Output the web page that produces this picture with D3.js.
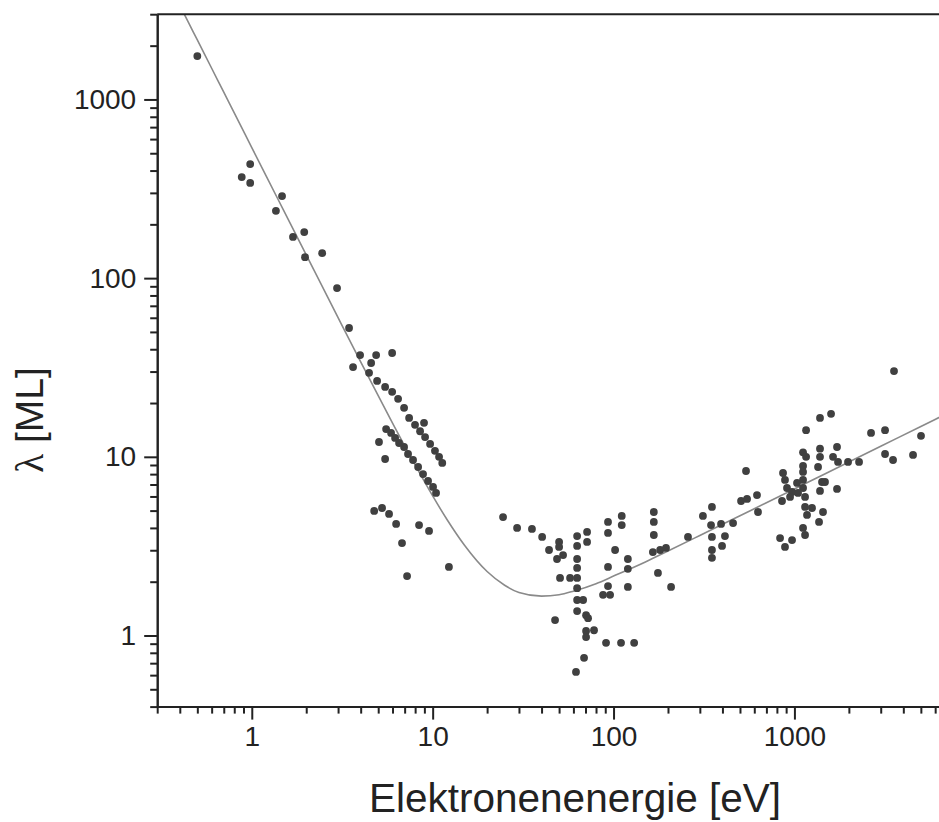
<!DOCTYPE html>
<html>
<head>
<meta charset="utf-8">
<script src="https://cdn.jsdelivr.net/npm/d3@7"></script>
<style>
  html, body { margin: 0; padding: 0; background: #fff; }
  svg { display: block; }
</style>
</head>
<body>
<svg id="chart" width="939" height="822"></svg>
<script>
// ---- data ----
const pointsLow = [
  [0.5,1750],[0.98,435],[0.88,368],[0.98,341],[1.47,288],[1.36,238],[1.69,170],[1.95,181],
  [1.97,131],[2.45,138],[2.96,88],[3.45,52.6]
];
const pointsBand = [
  [3.97,37.1],[4.87,37.1],[5.97,38.1],[3.63,31.8],[4.57,33.5],[4.45,29.5],[4.93,26.6],[5.46,24.6],
  [5.97,23.1],[6.44,21.1],[6.95,18.8],[7.41,16.5],[7.99,15.1],[8.96,15.5],[8.52,13.9],[9.08,12.9],
  [9.68,11.8],[10.3,10.8],[10.85,10.0],[11.3,9.24],
  [5.53,14.3],[5.89,13.6],[6.2,12.75],[6.52,11.95],[6.95,11.35],[7.31,10.37],[7.79,9.6],[8.31,8.77],
  [8.85,8.01],[9.43,7.32],[10.05,6.78],[10.44,6.28],
  [5.05,12.1],[5.46,9.72],[4.75,4.98],[5.25,5.17],[5.74,4.79],[6.28,4.21],[8.41,4.15],[9.55,3.85],
  [6.77,3.29],[12.3,2.42],[7.22,2.15]
];
const pointsMid = [
  [24.5,4.6],[29.3,4.0],[35.4,3.95],[40.3,3.56],[50,3.34],[50,3.13],[44,3.01],[48.7,2.68],[52.6,2.82],
  [62.9,3.6],[71.4,3.8],[62.9,3.17],[71.4,3.34],[62.9,2.68],[62.9,2.39],[50.6,2.1],[57.5,2.1],[62.9,2.1],
  [62.9,1.84],[62.9,1.58],[67.9,1.58],[62.9,1.37],[70.5,1.30],[72.3,1.25],[70.5,1.06],[78,1.07],
  [70.5,0.98],[47.5,1.22],[90.9,0.91],[110,0.91],[130,0.91],[68.7,0.75],[62,0.625],
  [93.2,4.32],[111,4.67],[111,4.15],[93.2,3.75],[102,3.01],[120,2.68],[120,2.36],[93.2,2.42],
  [93.2,1.89],[87.5,1.69],[95.7,1.69],[120,1.87],
  [167,4.91],[167,4.32],[167,3.65],[165,2.93],[181,3.01],[195,3.09],[176,2.24],[208,1.87]
];
const pointsHigh = [
  [258,3.56],[312,4.67],[350,5.24],[346,4.15],[393,4.21],[458,4.26],[350,3.56],[413,3.6],[350,3.01],
  [398,3.17],[350,2.72],[507,5.66],[547,5.81],[540,8.33],[621,6.11],[629,4.91],
  [1385,16.5],[1594,17.4],[1160,14.1],[1116,10.6],[1160,10.0],[1385,11.1],[1385,10.0],[1720,11.35],
  [1635,10.0],[1742,9.36],[1979,9.36],[2277,9.36],[1351,8.77],[1116,8.89],[1116,8.23],[1116,7.42],
  [1116,6.69],[1145,5.96],[1145,5.24],[1174,4.73],[1251,5.17],[1421,7.23],[1476,7.23],[1385,6.44],
  [1720,6.61],[1439,4.91],[1368,4.32],[1116,4.0],[1145,3.65],[865,8.12],[887,7.42],[910,6.69],
  [970,6.36],[946,5.96],[854,5.66],[1034,7.14],[1047,6.28],[833,3.51],[970,3.42],[887,3.13],
  [2652,13.6],[3170,14.1],[5010,13.1],[3170,10.37],[3509,9.6],[4527,10.24],[3553,30.2]
];
const curveE = [0.42,0.45,0.5,0.6,0.7,0.8,1,1.2,1.5,2,2.5,3,4,5,6,7,8,10,12,15,20,25,30,40,50,60,80,100,150,200,300,500,700,1000,1500,2000,3000,5000,7000,10000];
const curveL = [3050,2657,2152,1495,1098,841,538.2,373.8,239.4,134.8,86.4,60.1,34.0,22.0,15.46,11.53,9.00,6.04,4.46,3.20,2.28,1.91,1.74,1.66,1.69,1.77,1.95,2.15,2.58,2.97,3.63,4.68,5.53,6.61,8.10,9.35,11.45,14.79,17.49,20.91];

const xMajorTicks = [1, 10, 100, 1000];
const xMinorTicks = [0.3,0.4,0.5,0.6,0.7,0.8,0.9,2,3,4,5,6,7,8,9,20,30,40,50,60,70,80,90,200,300,400,500,600,700,800,900,2000,3000,4000,5000,6000,7000,8000,9000];
const yMajorTicks = [1, 10, 100, 1000];
const yMinorTicks = [0.4,0.5,0.6,0.7,0.8,0.9,2,3,4,5,6,7,8,9,20,30,40,50,60,70,80,90,200,300,400,500,600,700,800,900,2000,3000];

const xTitle = "Elektronenenergie [eV]";
const yTitleSymbol = "λ";
const yTitleUnit = " [ML]";

// ---- drawing ----
const svg = d3.select("#chart");
const pLeft = 157.2, pRight = 975.3, pTop = 14.2, pBottom = 706.6;

const x = d3.scaleLog().domain([0.3, 10000]).range([pLeft, pRight]);
const y = d3.scaleLog().domain([0.4, 3000]).range([pBottom, pTop]);

svg.append("rect").attr("width", 939).attr("height", 822).attr("fill", "#fff");

svg.append("defs").append("clipPath").attr("id", "plotclip")
  .append("rect").attr("x", pLeft).attr("y", pTop).attr("width", pRight - pLeft).attr("height", pBottom - pTop);

const plot = svg.append("g").attr("clip-path", "url(#plotclip)");

// curve
const line = d3.line()
  .x(d => x(d[0])).y(d => y(d[1]))
  .curve(d3.curveMonotoneX);
plot.append("path")
  .datum(curveE.map((e, i) => [e, curveL[i]]))
  .attr("d", line)
  .attr("fill", "none")
  .attr("stroke", "#8a8a8a")
  .attr("stroke-width", 1.6);

// points
const allPoints = pointsLow.concat(pointsBand, pointsMid, pointsHigh);
plot.selectAll("circle.pt").data(allPoints).enter().append("circle")
  .attr("class", "pt")
  .attr("cx", d => x(d[0])).attr("cy", d => y(d[1]))
  .attr("r", 3.9)
  .attr("fill", "#404040");

// frame top / right
svg.append("line").attr("x1", pLeft).attr("x2", pRight).attr("y1", pTop).attr("y2", pTop)
  .attr("stroke", "#222").attr("stroke-width", 2);
svg.append("line").attr("x1", pRight).attr("x2", pRight).attr("y1", pTop).attr("y2", pBottom)
  .attr("stroke", "#222").attr("stroke-width", 2);

function styleAxis(g) {
  g.selectAll("path.domain").attr("stroke", "#222").attr("stroke-width", 2);
  g.selectAll(".tick line").attr("stroke", "#222").attr("stroke-width", 2);
  g.selectAll(".tick text").attr("fill", "#222")
    .style("font-family", "'Liberation Sans', Arial, sans-serif")
    .style("font-size", "28px");
}

// x axis
const gxMinor = svg.append("g").attr("transform", `translate(0,${pBottom})`)
  .call(d3.axisBottom(x).tickValues(xMinorTicks).tickSize(7).tickSizeOuter(0).tickFormat(""));
styleAxis(gxMinor);
const gx = svg.append("g").attr("transform", `translate(0,${pBottom})`)
  .call(d3.axisBottom(x).tickValues(xMajorTicks).tickSize(13).tickSizeOuter(0).tickPadding(7).tickFormat(d3.format("d")));
styleAxis(gx);

// y axis
const gyMinor = svg.append("g").attr("transform", `translate(${pLeft},0)`)
  .call(d3.axisLeft(y).tickValues(yMinorTicks).tickSize(7).tickSizeOuter(0).tickFormat(""));
styleAxis(gyMinor);
const gy = svg.append("g").attr("transform", `translate(${pLeft},0)`)
  .call(d3.axisLeft(y).tickValues(yMajorTicks).tickSize(13).tickSizeOuter(0).tickPadding(8).tickFormat(d3.format("d")));
styleAxis(gy);

// titles
svg.append("text")
  .attr("x", 575).attr("y", 812)
  .attr("text-anchor", "middle")
  .attr("fill", "#222")
  .style("font-family", "'Liberation Sans', Arial, sans-serif")
  .style("font-size", "40.5px")
  .text(xTitle);

const yt = svg.append("text")
  .attr("transform", "translate(43,420) rotate(-90)")
  .attr("text-anchor", "middle")
  .attr("fill", "#222")
  .style("font-family", "'Liberation Sans', Arial, sans-serif")
  .style("font-size", "39px");
yt.append("tspan").style("font-family", "'Liberation Serif', 'DejaVu Serif', serif").text(yTitleSymbol);
yt.append("tspan").text(yTitleUnit);
</script>
</body>
</html>
